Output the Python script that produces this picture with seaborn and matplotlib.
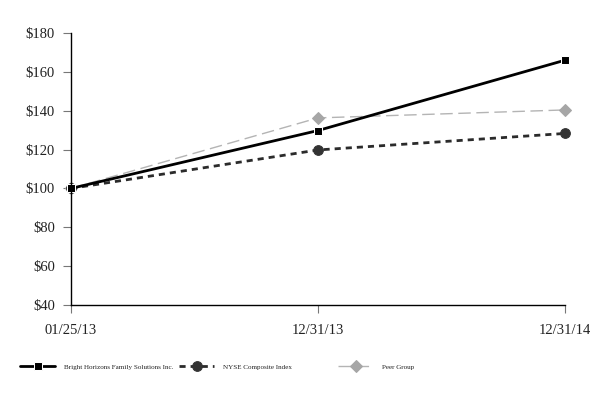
import pandas as pd
import matplotlib
matplotlib.use("Agg")
import matplotlib.pyplot as plt
import seaborn as sns

# data
dates = ["01/25/13", "12/31/13", "12/31/14"]
bright = [100, 129.8, 166.0]
nyse = [100, 119.8, 128.3]
peer = [100, 136.3, 140.4]

sns.set_style("white")
plt.rcParams['font.family'] = ['Liberation Serif', 'DejaVu Serif']

df = pd.DataFrame({"pos": range(len(dates)), "date": dates,
                   "Bright Horizons Family Solutions Inc.": bright,
                   "NYSE Composite Index": nyse,
                   "Peer Group": peer})

fig = plt.figure(figsize=(5.98, 4.0), dpi=100)
ax = fig.add_axes([71/598, 1-305/400, (565-71)/598, (305-33)/400])

sns.lineplot(data=df, x="pos", y="Peer Group", ax=ax, color="#b4b4b4",
             linewidth=1.0, marker="D", markersize=6,
             markerfacecolor="#a6a6a6", markeredgecolor="#a6a6a6",
             label="Peer Group")
ax.lines[-1].set_dashes((9, 4))
sns.lineplot(data=df, x="pos", y="NYSE Composite Index", ax=ax, color="#2b2b2b",
             linewidth=2.0, marker="o", markersize=7,
             markerfacecolor="#333333", markeredgecolor="#333333",
             label="NYSE Composite Index")
ax.lines[-1].set_dashes((2.2, 1.8))
sns.lineplot(data=df, x="pos", y="Bright Horizons Family Solutions Inc.", ax=ax,
             color="black", linewidth=2.0, marker="s", markersize=6,
             label="Bright Horizons Family Solutions Inc.")
for ln in ax.lines:
    ln.set_clip_on(False)

ax.set_xlim(0, 2)
ax.set_ylim(40, 180)
ax.set_xticks(df["pos"])
ax.set_xticklabels(dates)
ax.set_yticks(range(40, 181, 20))
ax.set_yticklabels([f"${v}" for v in range(40, 181, 20)])
ax.set_xlabel("")
ax.set_ylabel("")
for s in ["top", "right"]:
    ax.spines[s].set_visible(False)
for s in ["left", "bottom"]:
    ax.spines[s].set_color("black")
    ax.spines[s].set_linewidth(1.0)
ax.tick_params(axis="both", bottom=True, left=True, direction="out", length=5.5,
               width=0.8, color="#777777", labelsize=10.5)
ax.tick_params(axis="y", pad=6)
ax.tick_params(axis="x", pad=8)
for t in ax.get_yticklabels() + ax.get_xticklabels():
    t.set_color("#222222")

h, l = ax.get_legend_handles_labels()
ax.get_legend().remove()
# one legend per entry, placed like the reference
for i, x0 in [(2, 20), (1, 179), (0, 338)]:
    fig.legend([h[i]], [l[i]], loc="center left",
               bbox_to_anchor=(x0/598, 1-367/400), frameon=False,
               fontsize=5.1, handlelength=5.0, handletextpad=1.15,
               borderpad=0, borderaxespad=0, labelcolor="#222222")

fig.savefig("out.png", dpi=100)
